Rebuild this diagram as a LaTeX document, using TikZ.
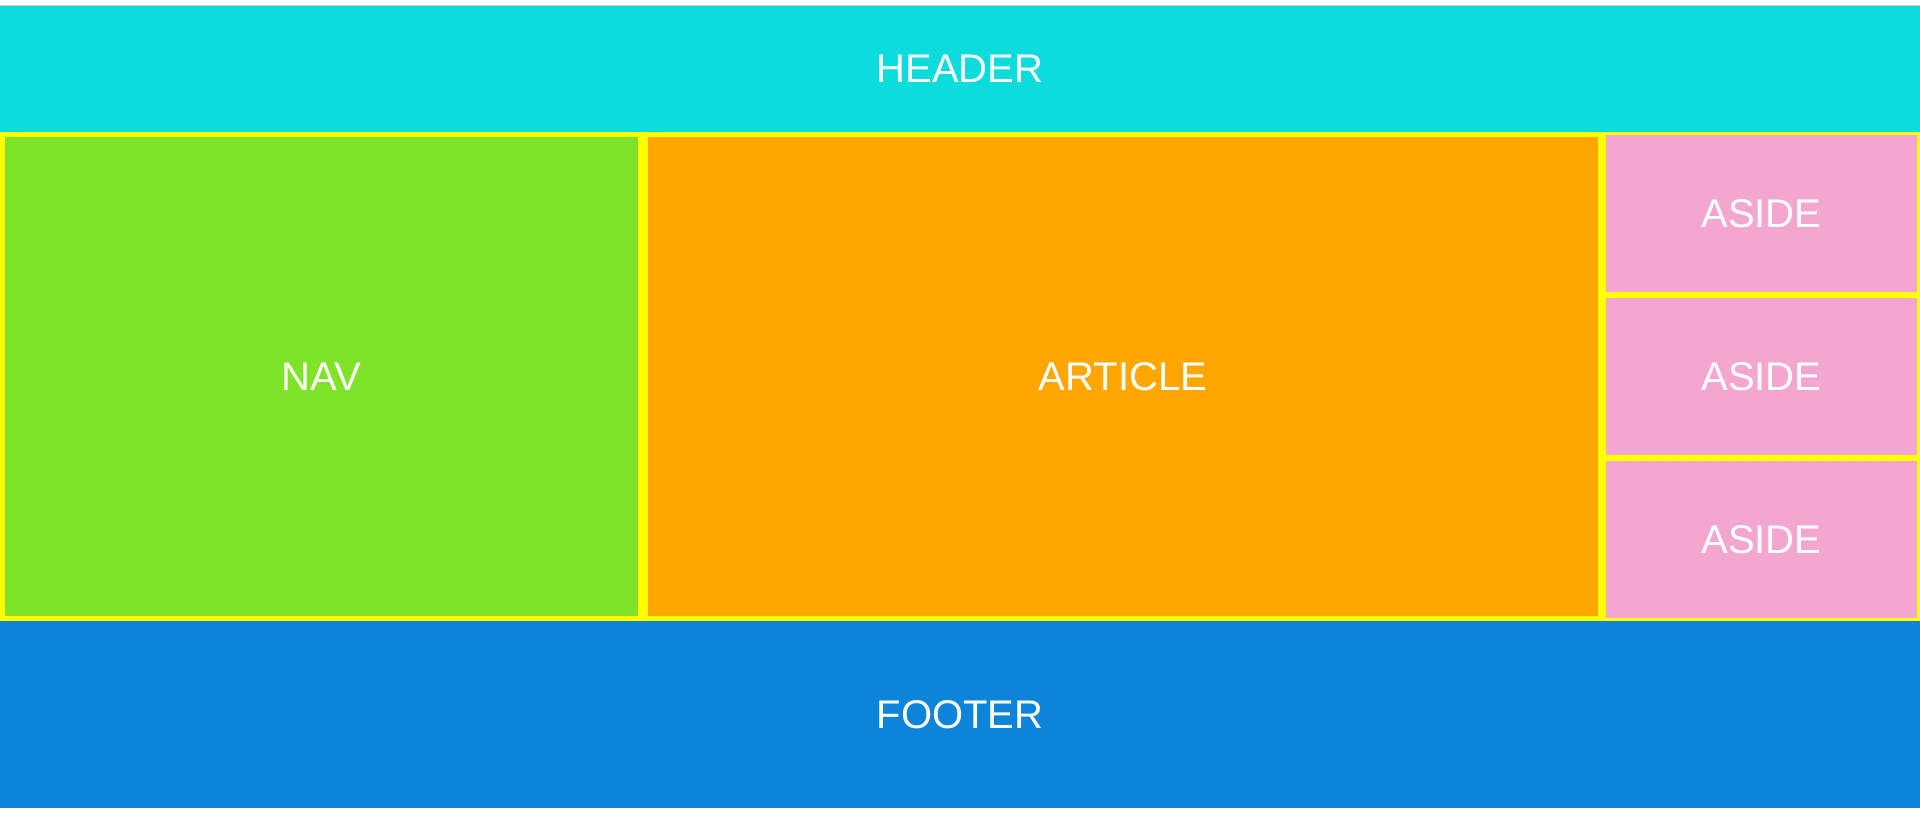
\documentclass[tikz,border=0pt]{standalone}
\usepackage{fontspec}
\setmainfont{Liberation Sans}
\definecolor{hdrcyan}{RGB}{12,220,220}
\definecolor{navgreen}{RGB}{127,228,40}
\definecolor{artorange}{RGB}{255,166,0}
\definecolor{asidepink}{RGB}{243,166,208}
\definecolor{ftrblue}{RGB}{11,132,217}
\definecolor{sepyellow}{RGB}{255,255,0}
\tikzset{
  region/.style={rectangle, inner sep=0pt, outer sep=0pt, text=white,
    font=\fontsize{40}{40}\selectfont},
}
\begin{document}
\begin{tikzpicture}[x=1pt, y=-1pt]
  % canvas
  \fill[white] (0,0) rectangle (1920,813);
  \useasboundingbox (0,0) rectangle (1920,813);
  % yellow gutter behind the middle row
  \fill[sepyellow] (0,132) rectangle (1920,621);
  % header and footer bands
  \node[region, fill=hdrcyan, minimum width=1920pt, minimum height=126pt] (header) at (960,69) {HEADER};
  \node[region, fill=ftrblue, minimum width=1920pt, minimum height=187pt] (footer) at (960,714.5) {FOOTER};
  \draw[gray!40, line width=1pt] (0,6) -- (1920,6);
  % middle row
  \node[region, fill=navgreen, minimum width=633pt, minimum height=479pt] (nav) at (321.5,376.5) {NAV};
  \node[region, fill=artorange, minimum width=950pt, minimum height=479pt] (article) at (1123,376.5) {ARTICLE};
  \node[region, fill=asidepink, minimum width=311pt, minimum height=157pt] (aside1) at (1761.5,213.5) {ASIDE};
  \node[region, fill=asidepink, minimum width=311pt, minimum height=157pt] (aside2) at (1761.5,376.5) {ASIDE};
  \node[region, fill=asidepink, minimum width=311pt, minimum height=157pt] (aside3) at (1761.5,539.5) {ASIDE};
\end{tikzpicture}
\end{document}
